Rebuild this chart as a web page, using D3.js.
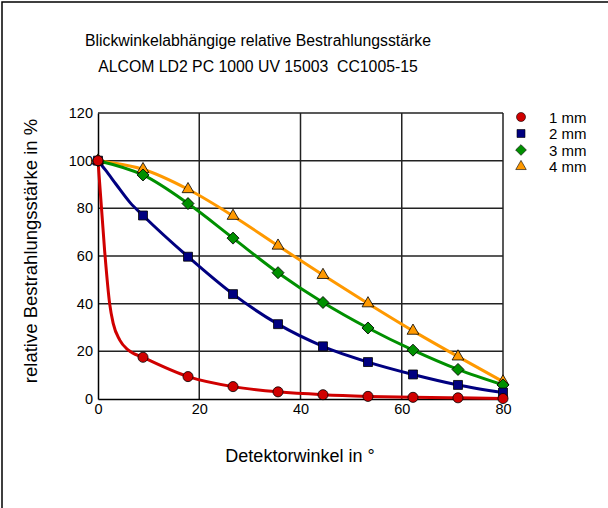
<!DOCTYPE html>
<html>
<head>
<meta charset="utf-8">
<script src="https://cdnjs.cloudflare.com/ajax/libs/d3/7.8.5/d3.min.js"></script>
<style>
  body { margin: 0; background: #fff; overflow: hidden; }
  svg { display: block; }
  svg text { font-family: "Liberation Sans", Arial, sans-serif; fill: #000; }
</style>
</head>
<body>
<div id="chart"></div>
<script>
// measured angles (deg) for the markers
var angles = [0, 8.89, 17.78, 26.67, 35.56, 44.44, 53.33, 62.22, 71.11, 80];
var series = ["1 mm", "2 mm", "3 mm", "4 mm"];
var vals1 = [100, 17.5, 9.4, 5.2, 3.0, 1.8, 1.1, 0.7, 0.5, 0.2];
var vals2 = [100, 77, 59.7, 44, 31.4, 22.1, 15.5, 10.3, 5.9, 2.7];
var vals3 = [100, 94, 82, 67.5, 53, 40.5, 29.8, 20.5, 12.4, 5.9];
var vals4 = [100, 96.4, 88, 76.8, 64.3, 52, 40.1, 28.6, 17.8, 7.3];

// extra points of the drawn curves near 0 deg
var curve1X = [0, 1.3, 2.3, 3, 4.3, 6, 8.89];
var curve1Y = [100, 62.5, 40, 31.7, 24.7, 20.5, 17.5];
var curve2X = [0, 1.5, 3.6, 6.3, 8.89];
var curve2Y = [100, 96, 90, 82.5, 77];

var xTicks = [0, 20, 40, 60, 80];
var yTicks = [0, 20, 40, 60, 80, 100, 120];

var colors = ["#d00000", "#000080", "#009000", "#ff9900"];
var shapes = [d3.symbolCircle, d3.symbolSquare, d3.symbolSquare, d3.symbolTriangle];
var sizes = [80, 80, 72, 60];
var rotations = [0, 0, 45, 0];

var svgWidth = 608, svgHeight = 508;
var margin = {top: 113, left: 98};
var w = 405, h = 286;

var svg = d3.select("#chart").append("svg")
    .attr("width", svgWidth)
    .attr("height", svgHeight);

// outer frame: only left and top edges are inside the picture
svg.append("path")
    .attr("d", `M2,${svgHeight} L2,2 L${svgWidth},2`)
    .attr("fill", "none").attr("stroke", "#000").attr("stroke-width", 1.5);

svg.append("text").attr("x", 258).attr("y", 46)
    .attr("text-anchor", "middle").style("font-size", "15.8px")
    .text("Blickwinkelabhängige relative Bestrahlungsstärke");
svg.append("text").attr("x", 258).attr("y", 72)
    .attr("text-anchor", "middle").style("font-size", "15.8px")
    .style("white-space", "pre")
    .text("ALCOM LD2 PC 1000 UV 15003  CC1005-15");

var x = d3.scaleLinear().domain([0, 80]).range([0, w]);
var y = d3.scaleLinear().domain([0, 120]).range([h, 0]);

var g = svg.append("g").attr("transform", `translate(${margin.left},${margin.top})`);

// grid
g.selectAll(".vg").data(xTicks.slice(1)).enter().append("line")
    .attr("x1", d => x(d)).attr("x2", d => x(d))
    .attr("y1", 0).attr("y2", h)
    .attr("stroke", "#222").attr("stroke-width", 1.5);
g.selectAll(".hg").data(yTicks.slice(1)).enter().append("line")
    .attr("x1", 0).attr("x2", w)
    .attr("y1", d => y(d)).attr("y2", d => y(d))
    .attr("stroke", "#222").attr("stroke-width", 1.5);

// axes
var xAxis = d3.axisBottom(x).tickValues(xTicks).tickSize(0).tickPadding(5);
var yAxis = d3.axisLeft(y).tickValues(yTicks).tickSize(0).tickPadding(5);
var gx = g.append("g").attr("transform", `translate(0,${h})`).call(xAxis);
var gy = g.append("g").call(yAxis);
[gx, gy].forEach(function (a) {
    a.select(".domain").attr("stroke", "#000").attr("stroke-width", 1.5);
    a.selectAll("text").style("font-size", "14.5px").style("font-family", "Liberation Sans, Arial, sans-serif");
});

svg.append("text").attr("x", 300).attr("y", 462)
    .attr("text-anchor", "middle").style("font-size", "18px")
    .text("Detektorwinkel in °");
svg.append("text")
    .attr("transform", "translate(37,251) rotate(-90)")
    .attr("text-anchor", "middle").style("font-size", "18.5px")
    .text("relative Bestrahlungsstärke in %");

// curve point lists
function zip(xs, ys) { return xs.map((v, i) => [v, ys[i]]); }
var allVals = [vals1, vals2, vals3, vals4];
var curves = [
    zip(curve1X, curve1Y).concat(zip(angles.slice(2), vals1.slice(2))),
    zip(curve2X, curve2Y).concat(zip(angles.slice(2), vals2.slice(2))),
    zip(angles, vals3),
    zip(angles, vals4)
];

var line = d3.line()
    .x(d => x(d[0])).y(d => y(d[1]))
    .curve(d3.curveMonotoneX);

for (var i = 3; i >= 0; i--) {
    g.append("path").datum(curves[i])
        .attr("d", line)
        .attr("fill", "none")
        .attr("stroke", colors[i])
        .attr("stroke-width", 3);
}

for (var i = 3; i >= 0; i--) {
    var sym = d3.symbol().type(shapes[i]).size(sizes[i]);
    var rot = rotations[i];
    g.selectAll(".m" + i).data(zip(angles, allVals[i])).enter().append("path")
        .attr("d", sym)
        .attr("transform", d => `translate(${x(d[0])},${y(d[1])}) rotate(${rot})`)
        .attr("fill", colors[i])
        .attr("stroke", "#000")
        .attr("stroke-width", 0.8);
}

// legend
var legend = svg.append("g").attr("transform", "translate(521,117)");
series.forEach(function (s, i) {
    var row = legend.append("g").attr("transform", `translate(0,${i * 16.5})`);
    row.append("path")
        .attr("d", d3.symbol().type(shapes[i]).size(sizes[i] * 0.8))
        .attr("transform", `rotate(${rotations[i]})`)
        .attr("fill", colors[i]).attr("stroke", "#000").attr("stroke-width", 0.6);
    row.append("text").attr("x", 28).attr("y", 5.5)
        .style("font-size", "15px").text(s);
});
</script>
</body>
</html>
